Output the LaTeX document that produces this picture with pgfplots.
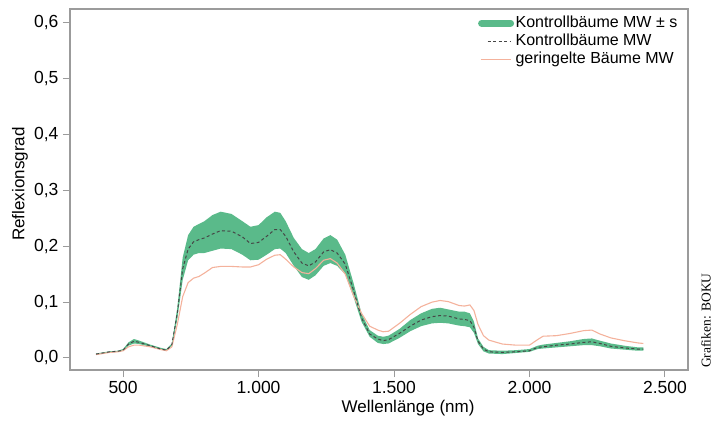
\documentclass[border=0pt]{standalone}
\usepackage{fontspec}
\setmainfont{Liberation Sans}
\newfontfamily\seriffont{Liberation Serif}
\usepackage{pgfplots}
\pgfplotsset{compat=1.18}
\usepackage{pgfplotstable}
\usepgfplotslibrary{fillbetween}
\definecolor{bandgreen}{RGB}{90,186,138}
\definecolor{salmon}{RGB}{244,178,156}
\definecolor{framegray}{RGB}{155,155,155}
\definecolor{dashgray}{RGB}{70,70,70}

\pgfplotstableread{
nm lo hi mw ger
400 0.006 0.008 0.007 0.006
450 0.010 0.012 0.011 0.010
480 0.011 0.013 0.012 0.011
500 0.013 0.016 0.014 0.013
520 0.022 0.028 0.025 0.020
540 0.026 0.034 0.030 0.023
560 0.025 0.031 0.028 0.023
600 0.020 0.024 0.022 0.020
640 0.015 0.018 0.016 0.015
660 0.013 0.016 0.014 0.013
680 0.022 0.026 0.024 0.020
700 0.070 0.090 0.080 0.060
720 0.140 0.180 0.160 0.110
740 0.175 0.220 0.195 0.135
760 0.185 0.235 0.208 0.143
780 0.188 0.240 0.212 0.146
800 0.188 0.245 0.215 0.152
830 0.192 0.256 0.222 0.162
860 0.196 0.262 0.228 0.164
900 0.195 0.258 0.227 0.164
940 0.185 0.245 0.217 0.163
970 0.175 0.235 0.205 0.163
1000 0.176 0.238 0.207 0.167
1030 0.185 0.252 0.218 0.177
1060 0.195 0.262 0.230 0.184
1080 0.196 0.260 0.230 0.185
1100 0.188 0.245 0.218 0.177
1130 0.165 0.215 0.190 0.163
1160 0.145 0.195 0.170 0.153
1185 0.140 0.188 0.165 0.151
1210 0.148 0.195 0.172 0.160
1240 0.165 0.214 0.190 0.175
1265 0.170 0.220 0.194 0.178
1290 0.165 0.212 0.188 0.170
1320 0.150 0.185 0.168 0.150
1350 0.110 0.135 0.122 0.112
1380 0.065 0.080 0.072 0.080
1410 0.038 0.050 0.043 0.057
1440 0.027 0.040 0.034 0.050
1460 0.025 0.038 0.031 0.047
1480 0.026 0.040 0.033 0.048
1520 0.036 0.052 0.044 0.062
1560 0.048 0.068 0.057 0.078
1600 0.057 0.080 0.068 0.092
1640 0.062 0.088 0.074 0.100
1670 0.063 0.090 0.076 0.103
1700 0.062 0.087 0.075 0.101
1740 0.058 0.083 0.070 0.094
1760 0.057 0.083 0.069 0.093
1780 0.055 0.080 0.067 0.095
1795 0.045 0.065 0.055 0.085
1810 0.025 0.035 0.030 0.060
1830 0.012 0.020 0.016 0.040
1850 0.008 0.014 0.011 0.032
1900 0.007 0.013 0.010 0.025
1950 0.009 0.014 0.011 0.023
2000 0.011 0.016 0.013 0.023
2030 0.016 0.022 0.019 0.033
2050 0.017 0.024 0.020 0.039
2100 0.019 0.027 0.023 0.040
2150 0.021 0.030 0.025 0.044
2200 0.023 0.034 0.028 0.049
2230 0.023 0.035 0.029 0.050
2260 0.021 0.031 0.026 0.043
2300 0.017 0.026 0.021 0.036
2350 0.015 0.022 0.018 0.031
2400 0.013 0.019 0.016 0.027
2420 0.013 0.019 0.016 0.026
}\spec

\begin{document}
\begin{tikzpicture}
\begin{axis}[
  scale only axis, width=618bp, height=361bp,
  xmin=304, xmax=2585, ymin=-0.0215, ymax=0.625,
  axis line style={framegray, line width=1.2bp},
  tick style={framegray, line width=1bp},
  tick align=outside, major tick length=7bp,
  xtick pos=lower, ytick pos=left,
  xtick={500,1000,1500,2000,2500},
  ytick={0,0.1,0.2,0.3,0.4,0.5,0.6},
  scaled x ticks=false, scaled y ticks=false,
  /pgf/number format/assume math mode=true,
  /pgf/number format/use comma,
  /pgf/number format/1000 sep={.},
  yticklabel style={/pgf/number format/fixed, /pgf/number format/fixed zerofill, /pgf/number format/precision=1, xshift=-1bp},
  xticklabel style={yshift=-1bp},
  tick label style={font=\fontsize{17.5bp}{20bp}\selectfont},
  label style={font=\fontsize{17bp}{20bp}\selectfont},
  xlabel={Wellenlänge (nm)},
  ylabel={Reflexionsgrad},
  x label style={at={(axis description cs:0.547,0)}, anchor=center, yshift=-38bp},
  y label style={at={(axis description cs:0,0.515)}, anchor=center, yshift=50bp},
  legend style={at={(axis description cs:0.660,0.986)}, anchor=north west, draw=none, fill=none, inner sep=0pt,
    font=\fontsize{16bp}{18.5bp}\selectfont,
    nodes={inner sep=1.5bp, text height=11.5bp, text depth=3.5bp, anchor=west},
    /tikz/every even column/.append style={column sep=4bp}},
  legend cell align=left,
]
\addplot[name path=hi, draw=none, forget plot] table[x=nm,y=hi]{\spec};
\addplot[name path=lo, draw=none, forget plot] table[x=nm,y=lo]{\spec};
\addplot[bandgreen, forget plot] fill between[of=hi and lo];
\addplot[salmon, line width=1.1bp, forget plot] table[x=nm,y=ger]{\spec};
\addplot[dashgray, line width=1bp, dash pattern=on 3bp off 2.5bp, forget plot] table[x=nm,y=mw]{\spec};
\addlegendimage{legend image code/.code={\draw[bandgreen, line width=7bp, line cap=round] (3bp,0bp) -- (32bp,0bp);}}
\addlegendentry{Kontrollbäume MW ± s}
\addlegendimage{legend image code/.code={\draw[dashgray, line width=0.8bp, dash pattern=on 3bp off 2.5bp] (9bp,0bp) -- (32bp,0bp);}}
\addlegendentry{Kontrollbäume MW}
\addlegendimage{legend image code/.code={\draw[salmon, line width=1.1bp] (2bp,0bp) -- (32bp,0bp);}}
\addlegendentry{geringelte Bäume MW}
\end{axis}
\node[rotate=90, anchor=west, inner sep=0pt, font=\seriffont\fontsize{13.5bp}{15bp}\selectfont] at (636bp,2bp) {Grafiken: BOKU};
\pgfresetboundingbox
\path[use as bounding box] (-70bp,-60bp) rectangle (645bp,370bp);
\end{tikzpicture}
\end{document}
